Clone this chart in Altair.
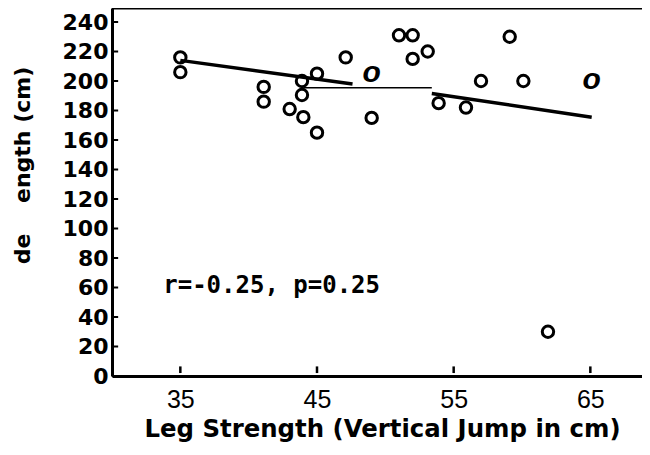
import altair as alt
import pandas as pd

# scatter points (Leg strength cm, value cm)
x_vals = [35, 35, 41.1, 41.1, 43.0, 44.0, 43.9, 43.9, 45.0, 45.0, 47.1, 49.0,
          51.0, 52.0, 52.0, 53.1, 53.9, 55.9, 57.0, 59.1, 60.1, 61.9]
y_vals = [216, 206, 196, 186, 181, 175.5, 200, 190.5, 205, 165, 216, 175,
          231, 231, 215, 220, 185, 182, 200, 230, 200, 30]
# two points printed as italic "o"
o_x = [49.0, 65.1]
o_y = [205, 200]
# regression line pieces (as printed)
fit_seg = ["a", "a", "b", "b"]
fit_x = [35, 47.6, 53.4, 65.1]
fit_y = [214, 198, 191.5, 175.5]
thin_x = [44.0, 53.4]
thin_y = [195.5, 195.5]
x_ticks = [35, 45, 55, 65]
y_ticks = [0, 20, 40, 60, 80, 100, 120, 140, 160, 180, 200, 220, 240]
annotation = "r=-0.25, p=0.25"
ann_x, ann_y = 33.75, 56
x_title = "Leg Strength (Vertical Jump in cm)"
y_title = "de\u00a0\u00a0\u00a0\u00a0ength (cm)"
x_domain = [30, 68.78]
y_domain = [0, 249.5]

pts = pd.DataFrame({"x": x_vals, "y": y_vals})
opts = pd.DataFrame({"x": o_x, "y": o_y})
fit = pd.DataFrame({"x": fit_x, "y": fit_y, "seg": fit_seg})
thin = pd.DataFrame({"x": thin_x, "y": thin_y})
xt = pd.DataFrame({"x": x_ticks})
yt = pd.DataFrame({"y": y_ticks})
frame = pd.DataFrame({"x": x_domain, "y": [y_domain[1], y_domain[1]]})
ann = pd.DataFrame({"x": [ann_x], "y": [ann_y], "t": [annotation]})

xs = alt.Scale(domain=x_domain, nice=False, zero=False)
ys = alt.Scale(domain=y_domain, nice=False, zero=False)

xaxis = alt.Axis(values=x_ticks, title=x_title, grid=False, ticks=False, tickSize=0,
                 labelFlush=False, labelFont="Liberation Sans", labelFontSize=25,
                 labelColor="black", labelPadding=31, labelBaseline="alphabetic",
                 domainColor="black", domainWidth=3,
                 titleFont="DejaVu Sans", titleFontSize=24.4, titleFontWeight="bold",
                 titleColor="black", titleX=270, titleY=60, titleBaseline="alphabetic")
yaxis = alt.Axis(values=y_ticks, tickCount=13, title=y_title, grid=False, ticks=False,
                 tickSize=0, labelFlush=False, labelOverlap=False,
                 labelFont="DejaVu Sans", labelFontSize=22, labelFontWeight="bold",
                 labelColor="black", labelPadding=4, domainColor="black", domainWidth=3,
                 titleFont="DejaVu Sans", titleFontSize=22, titleFontWeight="bold",
                 titleColor="black", titleAngle=270, titleAlign="center",
                 titleBaseline="middle", titleX=-90, titleY=157)

base_pts = alt.Chart(pts).mark_point(shape="circle", filled=False, color="black",
                                     strokeWidth=3, size=130, opacity=1).encode(
    x=alt.X("x:Q", scale=xs, axis=xaxis),
    y=alt.Y("y:Q", scale=ys, axis=yaxis),
)

o_pts = alt.Chart(opts).mark_text(text="o", font="Liberation Sans", fontStyle="italic",
                                  fontWeight="bold", fontSize=30, color="black",
                                  baseline="alphabetic", dy=8).encode(
    x=alt.X("x:Q", scale=xs), y=alt.Y("y:Q", scale=ys))

fit_line = alt.Chart(fit).mark_line(color="black", strokeWidth=3.5).encode(
    x=alt.X("x:Q", scale=xs), y=alt.Y("y:Q", scale=ys), detail="seg:N")

thin_line = alt.Chart(thin).mark_line(color="black", strokeWidth=1.5).encode(
    x=alt.X("x:Q", scale=xs), y=alt.Y("y:Q", scale=ys))

x_tick_marks = alt.Chart(xt).mark_rule(color="black", strokeWidth=2.5).encode(
    x=alt.X("x:Q", scale=xs), y=alt.datum(2), y2=alt.datum(6.5))

y_tick_marks = alt.Chart(yt).mark_rule(color="black", strokeWidth=2).encode(
    y=alt.Y("y:Q", scale=ys), x=alt.datum(30), x2=alt.datum(30.45))

top_line = alt.Chart(frame).mark_line(color="black", strokeWidth=3).encode(
    x=alt.X("x:Q", scale=xs), y=alt.Y("y:Q", scale=ys))

text = alt.Chart(ann).mark_text(font="DejaVu Sans Mono", fontSize=24, fontWeight="bold",
                                color="black", align="left", baseline="alphabetic").encode(
    x=alt.X("x:Q", scale=xs), y=alt.Y("y:Q", scale=ys), text="t:N")

chart = alt.layer(base_pts, top_line, fit_line, thin_line, x_tick_marks,
                  y_tick_marks, o_pts, text).properties(
    width=530, height=368,
    autosize=alt.AutoSizeParams(type="none"),
    padding={"left": 104, "top": 0, "right": 0, "bottom": 66},
    background="white",
).configure_view(stroke="transparent", strokeWidth=0, strokeOpacity=0).configure_axisY(labelOverlap=False)

chart.save("out.html", embed_options={"renderer": "svg", "actions": False})
